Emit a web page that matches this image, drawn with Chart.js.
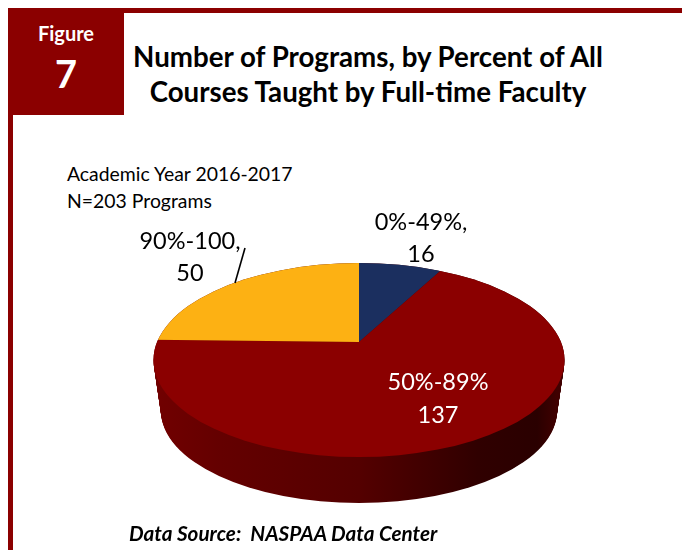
<!DOCTYPE html>
<html>
<head>
<meta charset="utf-8">
<title>Figure 7</title>
<script src="https://cdn.jsdelivr.net/npm/chart.js@4"></script>
<style>
    html, body { margin: 0; padding: 0; background: #fff; }
    #page { position: relative; width: 682px; height: 550px; overflow: hidden; font-family: Lato, sans-serif; color: #000; }
    #frameTop { position: absolute; left: 8px; top: 8px; right: 0; height: 5px; background: #8b0000; border-top-left-radius: 3px; }
    #frameLeft { position: absolute; left: 8px; top: 8px; bottom: 0; width: 5px; background: #8b0000; }
    #badge { position: absolute; left: 8px; top: 8px; width: 116px; height: 107px; background: #8b0000; color: #fff; text-align: center; font-weight: 700; border-top-left-radius: 3px; }
    #badge .word { position: absolute; left: 0; right: 0; top: 12px; font-size: 20px; line-height: 26px; }
    #badge .num { position: absolute; left: 0; right: 0; top: 42px; font-size: 38px; line-height: 46px; }
    #title { position: absolute; left: 124px; top: 39px; width: 488px; text-align: center; font-size: 27.7px; line-height: 35px; font-weight: 700; white-space: nowrap; }
    #sub { position: absolute; left: 67px; top: 160px; font-size: 19.4px; line-height: 27px; white-space: nowrap; }
    #source { position: absolute; left: 129px; top: 520px; font-size: 20.7px; line-height: 26px; font-weight: 700; font-style: italic; white-space: nowrap; }
    #chartWrap { position: absolute; left: 0; top: 0; width: 682px; height: 550px; }
</style>
</head>
<body>
<div id="page">
    <div id="frameTop"></div>
    <div id="frameLeft"></div>
    <div id="badge"><div class="word">Figure</div><div class="num">7</div></div>
    <div id="title">Number of Programs, by Percent of All<br>Courses Taught by Full-time Faculty</div>
    <div id="sub">Academic Year 2016-2017<br>N=203 Programs</div>
    <div id="chartWrap"><canvas id="pieChart" width="682" height="550"></canvas></div>
    <div id="source">Data Source:&nbsp; NASPAA Data Center</div>
</div>
<script>
// Data
const categories = ['0%-49%', '50%-89%', '90%-100'];
const programs = [16, 137, 50];
const sliceColors = ['#1b2f5f', '#8b0000', '#fdb113'];

// Pie look: the top face is squashed and its hub sits above the middle of the rim
const tilt = 0.472;
const rim = { x: 359, y: 360, rx: 205.5, ry: 97 };
const base = { x: 359, y: 411, rx: 198, ry: 92 };

// Where each label goes, and its colour
const labelLines = [
    [categories[0] + ',', String(programs[0])],
    [categories[1], String(programs[1])],
    [categories[2] + ',', String(programs[2])]
];
const labelSpots = [[421, 222, 32], [438, 382, 33], [190, 241, 32]];
const labelColors = ['#000', '#fff', '#000'];

// Side wall, then squash the slices
const tiltPlugin = {
    id: 'tilt',
    beforeDatasetsDraw(chart) {
        const ctx = chart.ctx;
        const hub = chart.getDatasetMeta(0).data[0];
        const grad = ctx.createLinearGradient(base.x - base.rx, 0, base.x + base.rx, 0);
        grad.addColorStop(0, '#700000');
        grad.addColorStop(0.15, '#640000');
        grad.addColorStop(0.5, '#540000');
        grad.addColorStop(0.8, '#300000');
        grad.addColorStop(0.95, '#2a0000');
        grad.addColorStop(1, '#400000');
        ctx.save();
        ctx.fillStyle = grad;
        for (let i = 0; i <= 50; i++) {
            const t = i / 50;
            ctx.beginPath();
            ctx.ellipse(
                rim.x + (base.x - rim.x) * t,
                rim.y + (base.y - rim.y) * t,
                rim.rx + (base.rx - rim.rx) * t,
                rim.ry + (base.ry - rim.ry) * t,
                0, 0, Math.PI * 2
            );
            ctx.fill();
        }
        ctx.restore();

        ctx.save();
        ctx.beginPath();
        ctx.ellipse(rim.x, rim.y, rim.rx, rim.ry, 0, 0, Math.PI * 2);
        ctx.clip();
        ctx.translate(hub.x, hub.y);
        ctx.scale(1, tilt);
        ctx.translate(-hub.x, -hub.y);
    },
    afterDatasetsDraw(chart) {
        chart.ctx.restore();
    },
    afterDraw(chart) {
        const ctx = chart.ctx;
        // leader line for the last slice
        ctx.save();
        ctx.strokeStyle = '#000';
        ctx.lineWidth = 1.6;
        ctx.beginPath();
        ctx.moveTo(245, 248);
        ctx.lineTo(235, 283);
        ctx.stroke();
        // slice labels
        ctx.font = "23.5px Lato, sans-serif";
        ctx.textAlign = 'center';
        ctx.textBaseline = 'middle';
        labelLines.forEach((lines, i) => {
            ctx.fillStyle = labelColors[i];
            lines.forEach((txt, j) => {
                ctx.fillText(txt, labelSpots[i][0], labelSpots[i][1] + j * labelSpots[i][2]);
            });
        });
        ctx.restore();
    }
};

new Chart(document.getElementById('pieChart'), {
    type: 'pie',
    data: {
        labels: categories,
        datasets: [{
            data: programs,
            backgroundColor: sliceColors,
            borderWidth: 0,
            clip: false
        }]
    },
    options: {
        responsive: false,
        animation: false,
        radius: 260,
        // puts the hub at 359, 342
        layout: { padding: { left: 36, top: 134 } },
        plugins: { legend: { display: false }, tooltip: { enabled: false } }
    },
    plugins: [tiltPlugin]
});
</script>
</body>
</html>
